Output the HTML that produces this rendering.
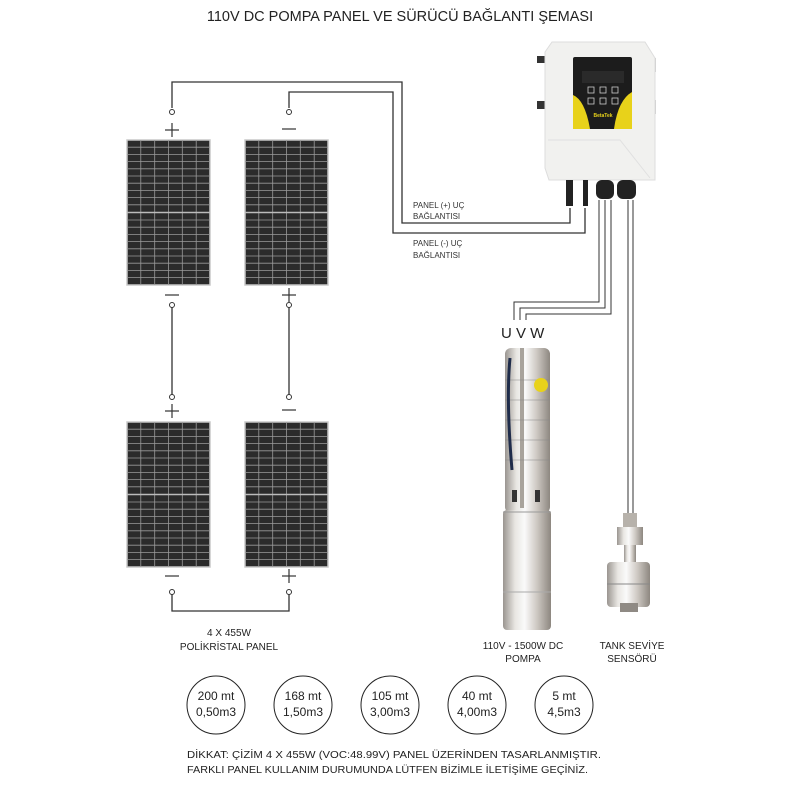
<!DOCTYPE html>
<html><head><meta charset="utf-8"><style>
html,body{margin:0;padding:0;background:#fff;}
svg{display:block;font-family:"Liberation Sans",sans-serif;}
</style></head><body>
<svg width="800" height="800" viewBox="0 0 800 800" xmlns="http://www.w3.org/2000/svg">
<defs>
<g id="pnl">
<rect x="0" y="0" width="83" height="145" fill="#2b2b2b" stroke="#c8c8c8" stroke-width="1.5"/>
<g stroke="#9a9a9a" stroke-width="0.8">
<line x1="13.8" y1="0" x2="13.8" y2="145"/><line x1="27.7" y1="0" x2="27.7" y2="145"/><line x1="41.5" y1="0" x2="41.5" y2="145"/><line x1="55.3" y1="0" x2="55.3" y2="145"/><line x1="69.2" y1="0" x2="69.2" y2="145"/>
<line x1="0" y1="7.2" x2="83" y2="7.2"/><line x1="0" y1="14.4" x2="83" y2="14.4"/><line x1="0" y1="21.6" x2="83" y2="21.6"/><line x1="0" y1="28.8" x2="83" y2="28.8"/><line x1="0" y1="36" x2="83" y2="36"/><line x1="0" y1="43.2" x2="83" y2="43.2"/><line x1="0" y1="50.4" x2="83" y2="50.4"/><line x1="0" y1="57.6" x2="83" y2="57.6"/><line x1="0" y1="64.8" x2="83" y2="64.8"/>
<line x1="0" y1="80" x2="83" y2="80"/><line x1="0" y1="87.2" x2="83" y2="87.2"/><line x1="0" y1="94.4" x2="83" y2="94.4"/><line x1="0" y1="101.6" x2="83" y2="101.6"/><line x1="0" y1="108.8" x2="83" y2="108.8"/><line x1="0" y1="116" x2="83" y2="116"/><line x1="0" y1="123.2" x2="83" y2="123.2"/><line x1="0" y1="130.4" x2="83" y2="130.4"/><line x1="0" y1="137.6" x2="83" y2="137.6"/>
</g>
<line x1="0" y1="72.5" x2="83" y2="72.5" stroke="#bbb" stroke-width="1.6"/>
</g>
<linearGradient id="steel" x1="0" x2="1" y1="0" y2="0">
<stop offset="0" stop-color="#9a9590"/><stop offset="0.25" stop-color="#e8e6e2"/><stop offset="0.45" stop-color="#fafafa"/><stop offset="0.7" stop-color="#cfcac4"/><stop offset="1" stop-color="#8d8780"/>
</linearGradient>
</defs>

<text x="400" y="21" font-size="14.5" text-anchor="middle" fill="#222">110V DC POMPA PANEL VE SÜRÜCÜ BAĞLANTI ŞEMASI</text>

<use href="#pnl" x="127" y="140"/>
<use href="#pnl" x="245" y="140"/>
<use href="#pnl" x="127" y="422"/>
<use href="#pnl" x="245" y="422"/>

<g stroke="#333" stroke-width="1.3" fill="none">
<polyline points="172,108 172,82 402,82 402,223 570,223 570,208"/>
<polyline points="289,108 289,92 393,92 393,233 585,233 585,208"/>
<line x1="172" y1="307" x2="172" y2="395"/>
<line x1="289" y1="307" x2="289" y2="395"/>
<polyline points="172,594 172,611 289,611 289,594"/>
</g>
<g stroke="#333" stroke-width="1" fill="#fff">
<circle cx="172" cy="112" r="2.5"/><circle cx="289" cy="112" r="2.5"/>
<circle cx="172" cy="305" r="2.5"/><circle cx="289" cy="305" r="2.5"/>
<circle cx="172" cy="397" r="2.5"/><circle cx="289" cy="397" r="2.5"/>
<circle cx="172" cy="592" r="2.5"/><circle cx="289" cy="592" r="2.5"/>
</g>
<g stroke="#333" stroke-width="1.2">
<line x1="165" y1="130" x2="179" y2="130"/><line x1="172" y1="123" x2="172" y2="137"/>
<line x1="282" y1="295" x2="296" y2="295"/><line x1="289" y1="288" x2="289" y2="302"/>
<line x1="165" y1="411" x2="179" y2="411"/><line x1="172" y1="404" x2="172" y2="418"/>
<line x1="282" y1="576" x2="296" y2="576"/><line x1="289" y1="569" x2="289" y2="583"/>
<line x1="282" y1="129" x2="296" y2="129"/>
<line x1="165" y1="295" x2="179" y2="295"/>
<line x1="282" y1="410" x2="296" y2="410"/>
<line x1="165" y1="576" x2="179" y2="576"/>
</g>

<g font-size="8" fill="#333">
<text x="413" y="208">PANEL (+) UÇ</text><text x="413" y="219">BAĞLANTISI</text>
<text x="413" y="246">PANEL (-) UÇ</text><text x="413" y="258">BAĞLANTISI</text>
</g>

<rect x="537" y="56" width="9" height="7" fill="#333"/>
<rect x="537" y="101" width="9" height="8" fill="#333"/>
<rect x="650" y="58" width="6" height="14" fill="#ccc"/>
<rect x="650" y="100" width="6" height="14" fill="#ccc"/>
<path d="M552,42 L645,42 L655,58 L655,180 L549,180 L545,168 L545,52 Z" fill="#f1f1ef" stroke="#ddd"/>
<path d="M548,140 L620,140 L650,178" fill="none" stroke="#e0e0e0"/>
<rect x="573" y="57" width="59" height="72" fill="#1c1c1c" rx="2"/>
<path d="M573,95 Q585,100 590,129 L573,129 Z" fill="#e8d21a"/>
<path d="M632,92 Q618,100 614,129 L632,129 Z" fill="#e8d21a"/>
<rect x="582" y="71" width="42" height="12" fill="#2a2a2a"/>
<g fill="none" stroke="#ccc" stroke-width="0.8">
<rect x="588" y="87" width="6" height="6"/><rect x="600" y="87" width="6" height="6"/><rect x="612" y="87" width="6" height="6"/>
<rect x="588" y="98" width="6" height="6"/><rect x="600" y="98" width="6" height="6"/><rect x="612" y="98" width="6" height="6"/>
</g>
<text x="603" y="117" font-size="5" fill="#e8d21a" text-anchor="middle" font-weight="bold">BetaTek</text>
<rect x="566" y="180" width="7" height="26" fill="#222"/>
<rect x="583" y="180" width="5" height="26" fill="#222"/>
<rect x="596" y="180" width="18" height="19" rx="6" fill="#222"/>
<rect x="617" y="180" width="19" height="19" rx="6" fill="#222"/>

<g stroke="#333" stroke-width="1" fill="none">
<polyline points="599,200 599,302 514,302 514,320"/>
<polyline points="605,200 605,308 520,308 520,320"/>
<polyline points="611,200 611,314 526,314 526,320"/>
<line x1="628" y1="200" x2="628" y2="513"/>
<line x1="633" y1="200" x2="633" y2="513"/>
</g>
<text x="501" y="338" font-size="15" fill="#222">U V W</text>

<rect x="505" y="348" width="45" height="165" rx="6" fill="url(#steel)"/>
<rect x="503" y="510" width="48" height="120" rx="4" fill="url(#steel)"/>
<line x1="503" y1="512" x2="551" y2="512" stroke="#999"/>
<line x1="503" y1="592" x2="551" y2="592" stroke="#aaa"/>
<rect x="520" y="348" width="4" height="160" fill="#a8a39c"/>
<g stroke="#888" stroke-width="0.6">
<line x1="505" y1="380" x2="550" y2="380"/><line x1="505" y1="400" x2="550" y2="400"/><line x1="505" y1="420" x2="550" y2="420"/><line x1="505" y1="440" x2="550" y2="440"/><line x1="505" y1="460" x2="550" y2="460"/>
</g>
<path d="M510,358 Q506,400 512,470" stroke="#1f2c4a" stroke-width="3" fill="none"/>
<circle cx="541" cy="385" r="7" fill="#e8d21a"/>
<rect x="512" y="490" width="5" height="12" fill="#333"/>
<rect x="535" y="490" width="5" height="12" fill="#333"/>

<rect x="623" y="513" width="14" height="14" fill="#b7b2ab"/>
<rect x="617" y="527" width="26" height="18" fill="url(#steel)"/>
<rect x="624" y="545" width="12" height="17" fill="url(#steel)"/>
<rect x="607" y="562" width="43" height="45" rx="4" fill="url(#steel)"/>
<line x1="607" y1="584" x2="650" y2="584" stroke="#888"/>
<rect x="620" y="603" width="18" height="9" fill="#8f8a84"/>

<g font-size="10" fill="#222" text-anchor="middle">
<text x="229" y="636">4 X 455W</text><text x="229" y="650">POLİKRİSTAL PANEL</text>
<text x="523" y="649">110V - 1500W DC</text><text x="523" y="662">POMPA</text>
<text x="632" y="649">TANK SEVİYE</text><text x="632" y="662">SENSÖRÜ</text>
</g>

<g fill="none" stroke="#222" stroke-width="1">
<circle cx="216" cy="705" r="29"/><circle cx="303" cy="705" r="29"/><circle cx="390" cy="705" r="29"/><circle cx="477" cy="705" r="29"/><circle cx="564" cy="705" r="29"/>
</g>
<g font-size="12" fill="#222" text-anchor="middle">
<text x="216" y="700">200 mt</text><text x="216" y="716">0,50m3</text>
<text x="303" y="700">168 mt</text><text x="303" y="716">1,50m3</text>
<text x="390" y="700">105 mt</text><text x="390" y="716">3,00m3</text>
<text x="477" y="700">40 mt</text><text x="477" y="716">4,00m3</text>
<text x="564" y="700">5 mt</text><text x="564" y="716">4,5m3</text>
</g>
<g font-size="10" fill="#222">
<text x="187" y="758" textLength="414" lengthAdjust="spacingAndGlyphs">DİKKAT: ÇİZİM 4 X 455W (VOC:48.99V) PANEL ÜZERİNDEN  TASARLANMIŞTIR.</text>
<text x="187" y="773" textLength="401" lengthAdjust="spacingAndGlyphs">FARKLI PANEL KULLANIM DURUMUNDA LÜTFEN BİZİMLE İLETİŞİME GEÇİNİZ.</text>
</g>
</svg>
</body></html>
